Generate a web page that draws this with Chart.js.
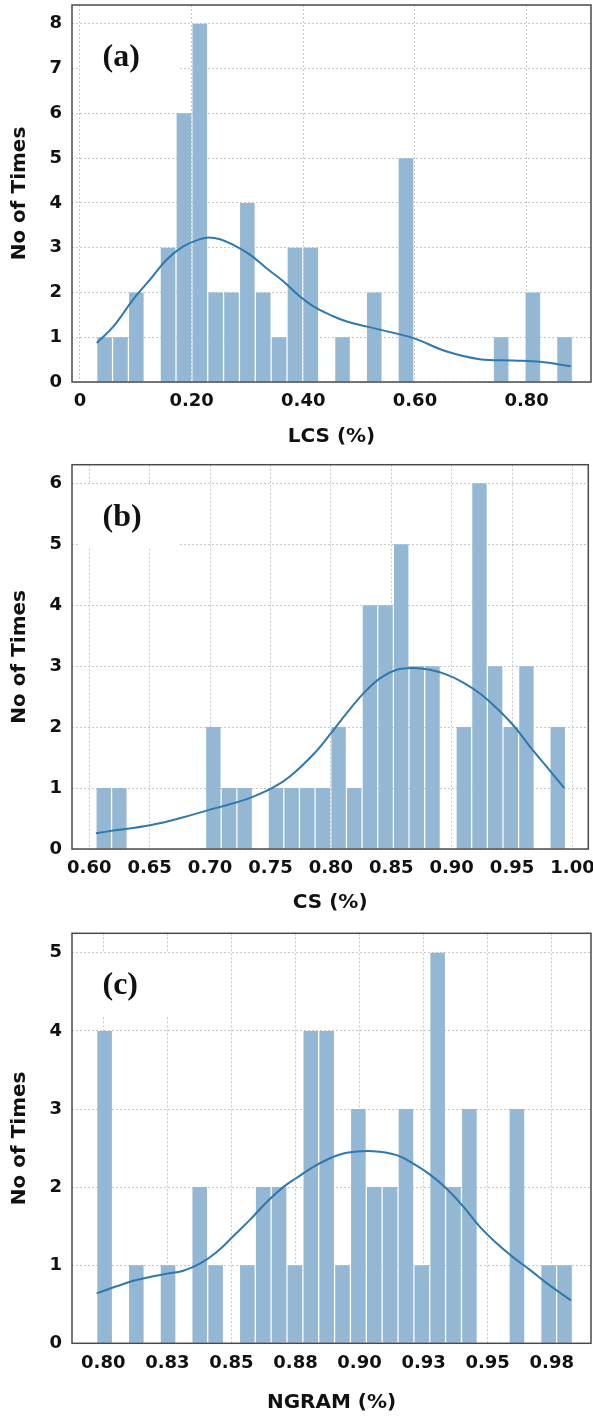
<!DOCTYPE html>
<html>
<head>
<meta charset="utf-8">
<script src="https://cdn.jsdelivr.net/npm/chart.js@4.4.1/dist/chart.umd.min.js"></script>
<style>
body{margin:0;background:#fff;width:593px;height:1416px;position:relative;overflow:hidden}
canvas{position:absolute;left:0}
</style>
</head>
<body>
<canvas id="chartA" width="593" height="460" style="top:0px"></canvas>
<canvas id="chartB" width="593" height="465" style="top:460px"></canvas>
<canvas id="chartC" width="593" height="491" style="top:925px"></canvas>
<script>

// (a) LCS histogram, 30 bins
const lcsBinStart = 0.0299
const lcsBinWidth = 0.02841
const lcsCounts = [1,1,2,0,3,6,8,2,2,4,2,1,3,3,0,1,0,2,0,5,0,0,0,0,0,1,0,2,0,1]
const lcsKdeX = [0.030,0.060,0.095,0.125,0.155,0.185,0.215,0.230,0.251,0.275,0.305,0.334,0.364,0.394,0.418,0.448,0.478,0.537,0.597,0.657,0.716,0.776,0.824,0.879]
const lcsKdeY = [0.87,1.24,1.84,2.28,2.73,3.03,3.19,3.23,3.19,3.06,2.84,2.54,2.25,1.91,1.69,1.50,1.35,1.17,0.98,0.68,0.51,0.48,0.45,0.35]
const lcsTicks = [0,0.2,0.4,0.6,0.8]
const lcsLabels = ["0","0.20","0.40","0.60","0.80"]
const lcsYTicks = [0,1,2,3,4,5,6,7,8]

// (b) CS histogram
const csBinStart = 0.6055
const csBinWidth = 0.01296
const csCounts = [1,1,0,0,0,0,0,2,1,1,0,1,1,1,1,2,1,4,4,5,3,3,0,2,6,3,2,3,0,2]
const csKdeX = [0.6055,0.6227,0.6502,0.6778,0.6972,0.7192,0.7358,0.7523,0.7661,0.7854,0.7993,0.8131,0.8268,0.8406,0.8545,0.8682,0.8820,0.8959,0.9096,0.9234,0.9373,0.9510,0.9648,0.9786,0.9932]
const csKdeY = [0.26,0.31,0.39,0.52,0.63,0.75,0.86,1.01,1.19,1.55,1.88,2.23,2.55,2.80,2.94,2.97,2.94,2.86,2.73,2.55,2.31,2.03,1.68,1.35,1.00]
const csTicks = [0.60,0.65,0.70,0.75,0.80,0.85,0.90,0.95,1.00]
const csLabels = ["0.60","0.65","0.70","0.75","0.80","0.85","0.90","0.95","1.00"]
const csYTicks = [0,1,2,3,4,5,6]

// (c) NGRAM histogram
const ngBinStart = 0.79742
const ngBinWidth = 0.006189
const ngCounts = [4,0,1,0,1,0,2,1,0,1,2,2,1,4,4,1,3,2,2,3,1,5,2,3,0,0,3,0,1,1]
const ngKdeX = [0.7974,0.8052,0.8117,0.8182,0.8247,0.8312,0.8377,0.8443,0.8507,0.8572,0.8638,0.8702,0.8755,0.8820,0.8885,0.8950,0.9054,0.9145,0.9210,0.9275,0.9340,0.9405,0.9470,0.9535,0.9600,0.9665,0.9730,0.9825]
const ngKdeY = [0.64,0.73,0.80,0.85,0.89,0.93,1.02,1.17,1.37,1.58,1.81,2.00,2.12,2.26,2.37,2.44,2.46,2.41,2.30,2.16,1.98,1.75,1.49,1.28,1.10,0.94,0.77,0.55]
const ngTicks = [0.800,0.825,0.850,0.875,0.900,0.925,0.950,0.975]
const ngLabels = ["0.80","0.83","0.85","0.88","0.90","0.93","0.95","0.98"]
const ngYTicks = [0,1,2,3,4,5]

const BAR = "#94b8d3"
const LINE = "#2f78ad"
const GRID = "#c8c8c8"
const TXT = "#111"

Chart.defaults.font.family = "'DejaVu Sans', sans-serif"

/* kotak label (a)/(b)/(c) + bingkai */
function deco(tag){
  return {
    id:"deco",
    beforeDatasetsDraw(chart){
      const a = chart.chartArea
      const ctx = chart.ctx
      ctx.save()
      ctx.fillStyle = "#fff"
      ctx.fillRect(a.left+8, a.top+20, 98, 62)
      ctx.fillStyle = TXT
      ctx.font = "bold 32px 'Liberation Serif'"
      ctx.textBaseline = "alphabetic"
      ctx.fillText(tag, a.left+30.5, a.top+61)
      ctx.restore()
    },
    afterDraw(chart){
      const a = chart.chartArea
      const ctx = chart.ctx
      ctx.save()
      ctx.setLineDash([])
      ctx.strokeStyle = "#4a4a4a"
      ctx.lineWidth = 1.5
      ctx.strokeRect(a.left, a.top, a.right-a.left, a.bottom-a.top)
      ctx.restore()
    }
  }
}

function makeChart(id, p){

const bins = p.counts.map((c,i)=>({x: p.binStart + (i+0.5)*p.binWidth, y: c}))
const kde = p.kdeX.map((x,i)=>({x: x, y: p.kdeY[i]}))

new Chart(document.getElementById(id),{
type:"bar",
data:{
datasets:[
{
type:"line",
data:kde,
borderColor:LINE,
borderWidth:2,
pointRadius:0,
tension:0.4,
order:0
},
{
type:"bar",
data:bins,
backgroundColor:BAR,
barPercentage:0.92,
categoryPercentage:1,
order:1
}
]
},
options:{
responsive:false,
animation:false,
layout:{padding:{top:p.top,right:p.right,left:0,bottom:0}},
plugins:{legend:{display:false},tooltip:{enabled:false}},
scales:{
x:{
type:"linear",
bounds:"data",
min:p.xMin,
max:p.xMax,
offset:false,
afterBuildTicks:s=>{ s.ticks = p.xTicks.map(v=>({value:v})) },
afterFit:s=>{ s.height = p.xAxisH; s.paddingLeft = 0; s.paddingRight = 0 },
ticks:{
callback:(v,i)=>p.xLabels[i],
padding:9,
autoSkip:false,
maxRotation:0,
color:TXT,
font:{size:18,weight:"bold"}
},
grid:{color:GRID,drawTicks:false,offset:false},
border:{display:false,dash:[2,2]},
title:{display:true,text:p.xTitle,color:TXT,font:{size:20,weight:"bold"},padding:{top:0,bottom:p.xTitlePad}}
},
y:{
type:"linear",
bounds:"data",
min:0,
max:p.yMax,
afterBuildTicks:s=>{ s.ticks = p.yTicks.map(v=>({value:v})) },
afterFit:s=>{ s.width = 72; s.paddingTop = 0; s.paddingBottom = 0 },
ticks:{
padding:10,
color:TXT,
font:{size:18,weight:"bold"}
},
grid:{color:GRID,drawTicks:false},
border:{display:false,dash:[2,2]},
title:{display:true,text:"No of Times",color:TXT,font:{size:20,weight:"bold"},padding:{top:7.5,bottom:0}}
}
}
},
plugins:[deco(p.tag)]
})

}

makeChart("chartA",{
tag:"(a)", counts:lcsCounts, binStart:lcsBinStart, binWidth:lcsBinWidth,
kdeX:lcsKdeX, kdeY:lcsKdeY, xTicks:lcsTicks, xLabels:lcsLabels, yTicks:lcsYTicks,
xMin:-0.0143, xMax:0.9153, yMax:8.42, xTitle:"LCS (%)",
top:5, right:2, xAxisH:78, xTitlePad:11
})

makeChart("chartB",{
tag:"(b)", counts:csCounts, binStart:csBinStart, binWidth:csBinWidth,
kdeX:csKdeX, kdeY:csKdeY, xTicks:csTicks, xLabels:csLabels, yTicks:csYTicks,
xMin:0.5857, xMax:1.0131, yMax:6.305, xTitle:"CS (%)",
top:4.7, right:4.7, xAxisH:76, xTitlePad:10
})

makeChart("chartC",{
tag:"(c)", counts:ngCounts, binStart:ngBinStart, binWidth:ngBinWidth,
kdeX:ngKdeX, kdeY:ngKdeY, xTicks:ngTicks, xLabels:ngLabels, yTicks:ngYTicks,
xMin:0.78779, xMax:0.99032, yMax:5.25, xTitle:"NGRAM (%)",
top:8.3, right:2, xAxisH:72.7, xTitlePad:1.5
})

</script>
</body>
</html>
